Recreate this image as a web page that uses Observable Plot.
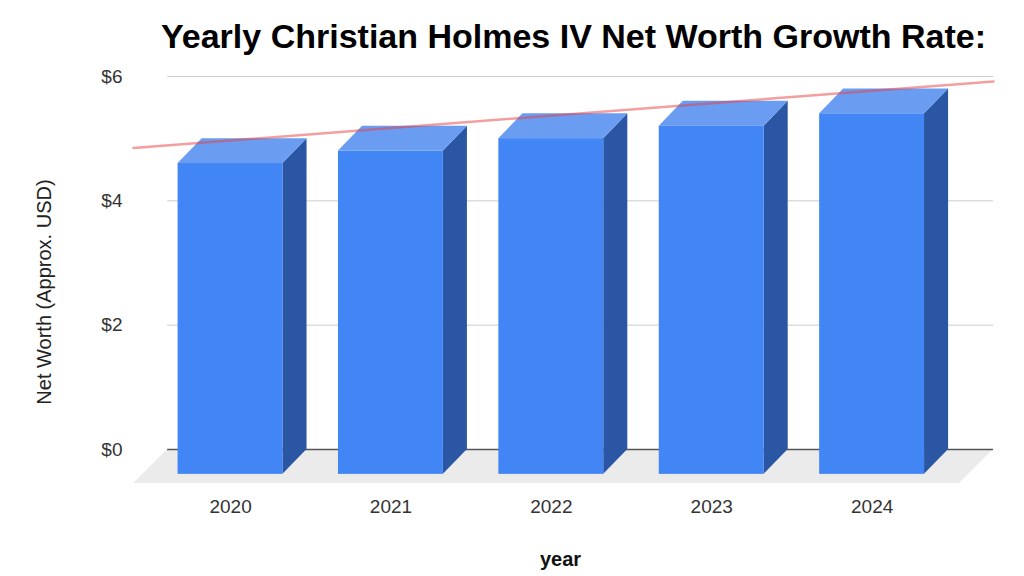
<!DOCTYPE html>
<html><head><meta charset="utf-8">
<script src="https://cdn.jsdelivr.net/npm/d3@7"></script>
<script src="https://cdn.jsdelivr.net/npm/@observablehq/plot@0.6"></script>
<style>
body{margin:0;background:#fff;font-family:"Liberation Sans",Arial,sans-serif;}
#title{height:54px;padding-top:6px;padding-left:161px;font-weight:bold;font-size:34px;line-height:60px;white-space:nowrap;color:#000;}
</style></head><body>
<div id="title">Yearly Christian Holmes IV Net Worth Growth Rate:</div>
<div id="chart"></div>
<script>
// ---- data ----
const years = [2020, 2021, 2022, 2023, 2024];
const netWorth = [5.0, 5.2, 5.4, 5.6, 5.8];
const yTicks = [0, 2, 4, 6];
const yTickLabels = ["$0", "$2", "$4", "$6"];
const yLabel = "Net Worth (Approx. USD)";
const xLabel = "year";

const data = years.map((year, i) => ({year, value: netWorth[i]}));

// ---- 3D geometry (in data units) ----
const hw = 0.327;              // half bar width
const dX = 0.15, dY = 0.40;    // bar depth offset
const fX = 0.212, fY = 0.547;  // floor depth offset
const xDomain = [2020 - 0.755, 2024 + 0.607];
const gridStart = 2020 - 0.542;

const sideData = data.flatMap(d => [
  {bar: d.year, x: d.year + hw - dX, y1: -dY, y2: d.value - dY},
  {bar: d.year, x: d.year + hw, y1: 0, y2: d.value}
]);
const topData = data.flatMap(d => [
  {bar: d.year, x: d.year - hw - dX, y1: d.value - dY, y2: d.value - dY},
  {bar: d.year, x: d.year - hw, y1: d.value - dY, y2: d.value},
  {bar: d.year, x: d.year + hw - dX, y1: d.value - dY, y2: d.value},
  {bar: d.year, x: d.year + hw, y1: d.value, y2: d.value}
]);
const floorData = [
  {x: gridStart - fX, y1: -fY, y2: -fY},
  {x: gridStart, y1: -fY, y2: 0},
  {x: xDomain[1] - fX, y1: -fY, y2: 0},
  {x: xDomain[1], y1: 0, y2: 0}
];

// linear trend (least squares)
const mx = d3.mean(years), my = d3.mean(netWorth);
const slope = d3.sum(years, (x, i) => (x - mx) * (netWorth[i] - my)) / d3.sum(years, x => (x - mx) ** 2);
const intercept = my - slope * mx;
const trend = xDomain.map(x => ({x, y: intercept + slope * x}));

const plot = Plot.plot({
  width: 1024,
  height: 516,
  marginTop: 16,
  marginBottom: 127,
  marginLeft: 133,
  marginRight: 31,
  style: {fontFamily: '"Liberation Sans", Arial, sans-serif', background: "#fff"},
  x: {type: "linear", domain: xDomain},
  y: {domain: [0, 6]},
  marks: [
    Plot.areaY(floorData, {x: "x", y1: "y1", y2: "y2", fill: "#ebebeb", curve: "linear"}),
    Plot.ruleY(yTicks.filter(t => t > 0), {x1: () => gridStart, x2: () => xDomain[1], stroke: "#cccccc", strokeWidth: 1}),
    Plot.ruleY([0], {x1: () => gridStart, x2: () => xDomain[1], stroke: "#555", strokeWidth: 1.5}),
    Plot.areaY(sideData, {x: "x", y1: "y1", y2: "y2", z: "bar", fill: "#2a56a3", curve: "linear"}),
    Plot.areaY(topData, {x: "x", y1: "y1", y2: "y2", z: "bar", fill: "#6a9df2", curve: "linear"}),
    Plot.rect(data, {x1: d => d.year - hw - dX, x2: d => d.year + hw - dX, y1: () => -dY, y2: d => d.value - dY, fill: "#4285f4"}),
    Plot.line(trend, {x: "x", y: "y", stroke: "#e8403f", strokeOpacity: 0.5, strokeWidth: 2.5}),
    Plot.axisY({ticks: yTicks, tickFormat: d => yTickLabels[yTicks.indexOf(d)], tickSize: 0, tickPadding: 11, fontSize: 19, color: "#333", label: null}),
    Plot.axisX({ticks: years, tickFormat: d => String(d), tickSize: 0, tickPadding: 50, dx: -24, fontSize: 19, color: "#333", label: null}),
    Plot.text([yLabel], {frameAnchor: "left", textAnchor: "middle", rotate: -90, dx: -89, dy: 29, fontSize: 20, fill: "#222"}),
    Plot.text([xLabel], {frameAnchor: "bottom", textAnchor: "middle", dx: -3, dy: 116, fontSize: 20, fontWeight: "bold", fill: "#111"})
  ]
});
document.getElementById("chart").appendChild(plot);
</script>
</body></html>
